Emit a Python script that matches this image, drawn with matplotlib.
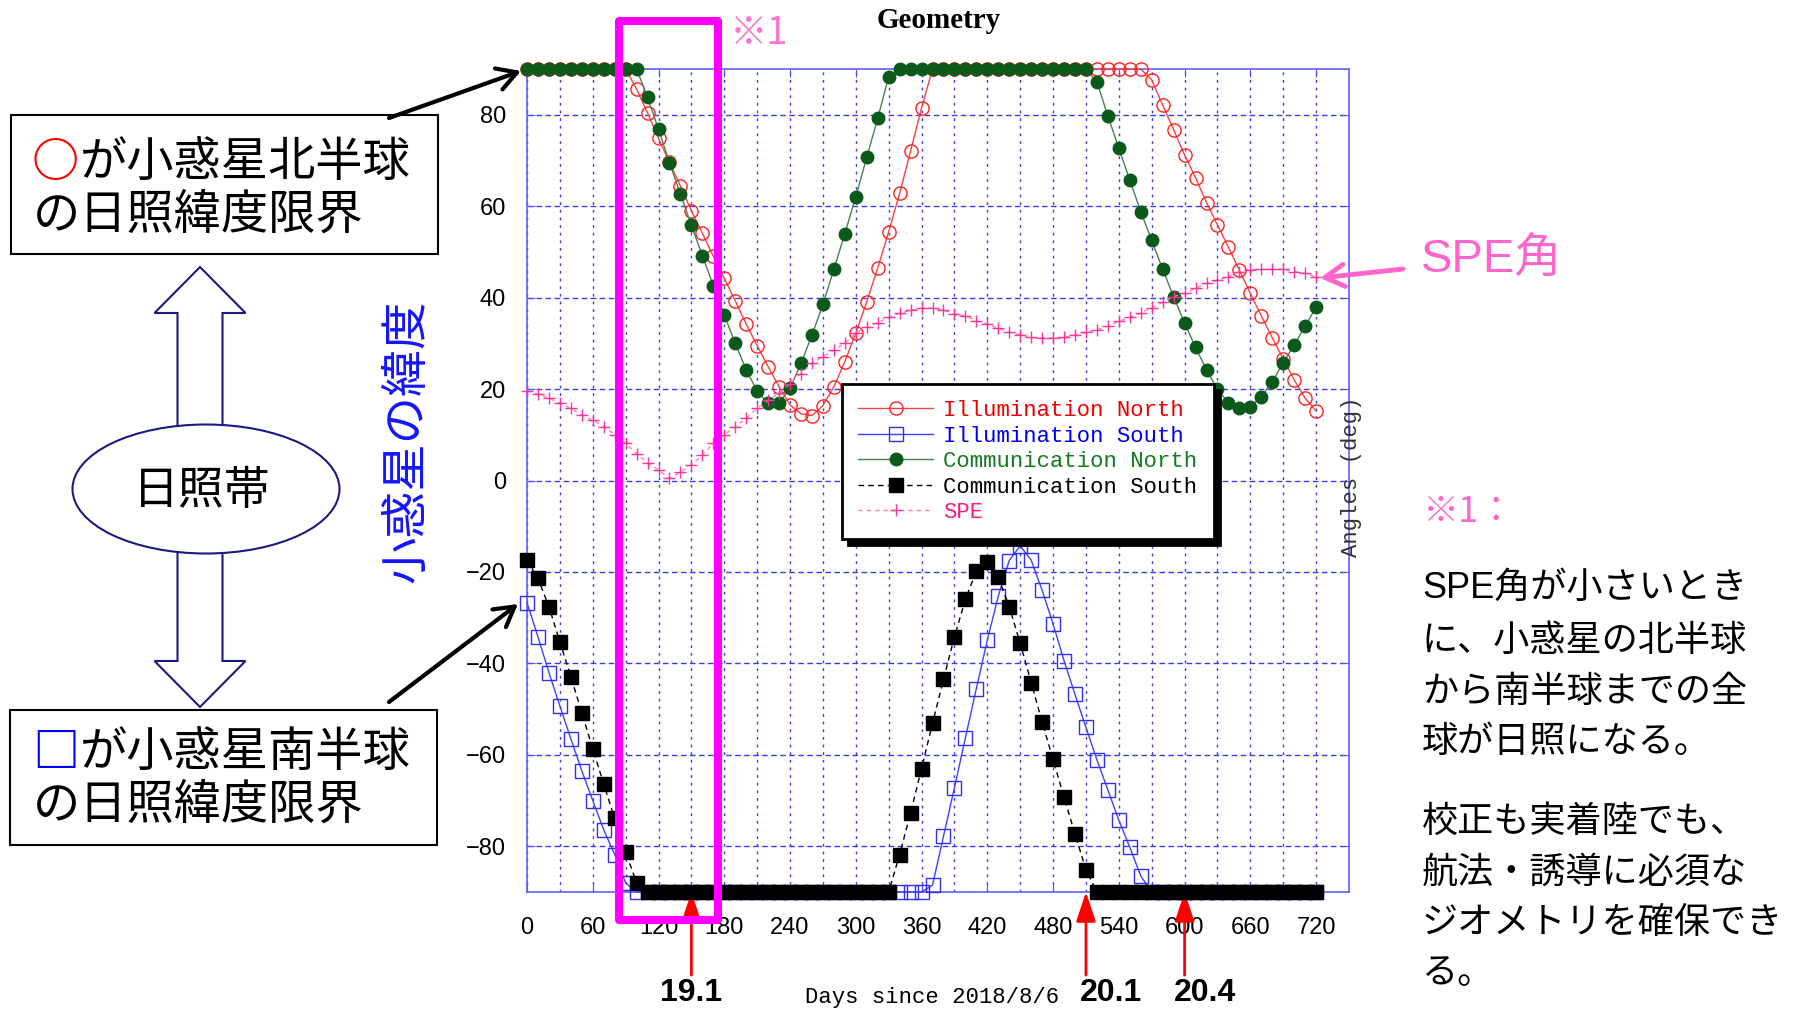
import matplotlib
matplotlib.use('Agg')
import matplotlib.pyplot as plt
from matplotlib.patches import Rectangle, Ellipse, Polygon
import numpy as np

plt.rcParams['font.family'] = ['Liberation Sans', 'Noto Sans CJK JP', 'DejaVu Sans']

# ---------------- data (every 10 days)
days = [0, 10, 20, 30, 40, 50, 60, 70, 80, 90,
        100, 110, 120, 130, 140, 150, 160, 170, 180, 190,
        200, 210, 220, 230, 240, 250, 260, 270, 280, 290,
        300, 310, 320, 330, 340, 350, 360, 370, 380, 390,
        400, 410, 420, 430, 440, 450, 460, 470, 480, 490,
        500, 510, 520, 530, 540, 550, 560, 570, 580, 590,
        600, 610, 620, 630, 640, 650, 660, 670, 680, 690,
        700, 710, 720]

illum_north = [90, 90, 90, 90, 90, 90, 90, 90, 90, 90,
               85.6, 80.4, 74.8, 69.6, 64.4, 59.0, 54.1, 49.0, 44.2, 39.3,
               34.2, 29.5, 24.9, 20.5, 16.5, 14.6, 14.2, 16.4, 20.5, 26.0,
               32.2, 39.1, 46.5, 54.4, 62.8, 72.1, 81.5, 90, 90, 90,
               90, 90, 90, 90, 90, 90, 90, 90, 90, 90,
               90, 90, 90, 90, 90, 90, 90, 87.6, 82.1, 76.7,
               71.2, 66.2, 60.8, 55.9, 51.0, 46.0, 40.9, 36.0, 31.2, 26.6,
               22.0, 18.0, 15.2]

illum_south = [-26.7, -34.2, -42.0, -49.3, -56.5, -63.5, -70.0, -76.4, -81.8, -88.0,
               -90, -90, -90, -90, -90, -90, -90, -90, -90, -90,
               -90, -90, -90, -90, -90, -90, -90, -90, -90, -90,
               -90, -90, -90, -90, -90, -90, -90, -88.5, -77.8, -67.2,
               -56.3, -45.5, -34.9, -25.3, -17.5, -14.3, -17.4, -24.0, -31.4, -39.4,
               -46.8, -54.0, -61.1, -67.7, -74.3, -80.2, -86.5, -90, -90, -90,
               -90, -90, -90, -90, -90, -90, -90, -90, -90, -90,
               -90, -90, -90]

comm_north = [90, 90, 90, 90, 90, 90, 90, 90, 90, 90,
              90, 83.8, 76.8, 69.5, 62.7, 55.8, 49.2, 42.6, 36.2, 30.0,
              24.2, 19.6, 16.9, 16.9, 20.2, 25.6, 31.8, 38.5, 46.2, 54.0,
              62.1, 70.7, 79.2, 88.3, 90, 90, 90, 90, 90, 90,
              90, 90, 90, 90, 90, 90, 90, 90, 90, 90,
              90, 90, 87.2, 79.7, 72.7, 65.7, 58.8, 52.5, 46.2, 40.2,
              34.4, 29.1, 24.2, 20.0, 17.0, 15.8, 16.1, 18.3, 21.6, 25.8,
              29.6, 33.8, 37.9]

comm_south = [-17.4, -21.4, -27.6, -35.3, -42.9, -50.8, -58.7, -66.4, -73.9, -81.2,
              -88.0, -90, -90, -90, -90, -90, -90, -90, -90, -90,
              -90, -90, -90, -90, -90, -90, -90, -90, -90, -90,
              -90, -90, -90, -90, -81.8, -72.7, -63.0, -53.1, -43.5, -34.2,
              -26.0, -19.8, -17.8, -21.2, -27.6, -35.6, -44.2, -52.8, -61.0, -69.3,
              -77.3, -85.2, -90, -90, -90, -90, -90, -90, -90, -90,
              -90, -90, -90, -90, -90, -90, -90, -90, -90, -90,
              -90, -90, -90]

spe = [19.6, 18.9, 18.0, 16.9, 15.8, 14.3, 13.2, 11.8, 10.0, 8.1,
       5.9, 3.9, 2.3, 0.5, 1.8, 3.4, 5.6, 8.1, 10.0, 11.8,
       13.6, 15.8, 17.5, 19.1, 21.2, 23.4, 25.6, 27.1, 28.5, 30.0,
       32.2, 33.6, 34.5, 35.7, 36.6, 37.2, 37.7, 37.7, 37.3, 36.4,
       36.0, 34.9, 34.2, 33.3, 32.4, 31.9, 31.3, 31.2, 31.2, 31.3,
       31.9, 32.4, 33.0, 33.7, 34.8, 35.7, 36.6, 37.8, 39.0, 40.2,
       41.0, 42.0, 43.1, 43.8, 44.6, 45.7, 46.1, 46.2, 46.2, 46.2,
       45.7, 45.3, 44.5]

x_ticks = [0, 60, 120, 180, 240, 300, 360, 420, 480, 540, 600, 660, 720]
y_ticks = [-80, -60, -40, -20, 0, 20, 40, 60, 80]

arrow_days = [150, 510, 600]
arrow_labels = ['19.1', '20.1', '20.4']
arrow_label_x = [691, 1111, 1205]

legend_colors = ['#ee0000', '#0000ee', '#127a20', 'black', '#ff1a80']

right_lines = ['SPE角が小さいとき', 'に、小惑星の北半球', 'から南半球までの全', '球が日照になる。',
               '校正も実着陸でも、', '航法・誘導に必須な', 'ジオメトリを確保でき', 'る。']
right_y = [588, 641, 692, 742, 822, 873, 923, 974]

# ---------------- figure
W, H = 1795, 1014
fig = plt.figure(figsize=(W / 100, H / 100), dpi=100)
ax = fig.add_axes([527 / W, 1 - 892 / H, 822 / W, 823 / H])

ax.plot(days, illum_north, color='#ff4040', lw=1.0, marker='o', ms=9.5, mfc='none',
        mec='#ff2020', mew=1.0, clip_on=False, label='Illumination North', zorder=3)
ax.plot(days, illum_south, color='#4040ff', lw=1.0, marker='s', ms=9.5, mfc='none',
        mec='#3030ee', mew=1.0, clip_on=False, label='Illumination South', zorder=3)
ax.plot(days, comm_north, color='#4a7f55', lw=1.0, marker='o', ms=9, mfc='#0b5a1c',
        mec='#0b5a1c', clip_on=False, label='Communication North', zorder=4)
ax.plot(days, comm_south, color='black', lw=1.0, ls=(0, (4, 3)), marker='s', ms=10.5,
        mfc='black', mec='black', clip_on=False, label='Communication South', zorder=4)
ax.plot(days, spe, color='#ff80b0', lw=1.0, ls=(0, (3, 3)), marker='+', ms=8,
        mec='#ff3399', mew=1.0, clip_on=False, label='SPE', zorder=5)

ax.set_xlim(0, 750)
ax.set_ylim(-90, 90)
ax.set_xticks(x_ticks)
ax.set_xticks(np.arange(30, 750, 60), minor=True)
ax.set_yticks(y_ticks)
ax.grid(which='both', axis='x', color='#3a3aee', ls=(0, (2, 3.5)), lw=1.0)
ax.grid(which='major', axis='y', color='#3a3aee', ls=(0, (4, 2.5)), lw=1.0)
ax.set_axisbelow(True)
for s in ax.spines.values():
    s.set_color('#6060ff')
    s.set_linewidth(1.2)
ax.tick_params(axis='both', which='major', direction='in', length=6, color='#5050ff',
               labelsize=17, left=True, right=True, top=True, bottom=True)
ax.tick_params(axis='y', pad=15)
ax.tick_params(axis='x', pad=18)
ax.tick_params(which='minor', length=0)

leg = ax.legend(loc='upper left', bbox_to_anchor=(0.383, 0.617), borderaxespad=0,
                prop={'family': 'Liberation Mono', 'size': 16}, handlelength=3.4,
                handletextpad=0.45, labelspacing=0.2, borderpad=0.72, fancybox=False,
                framealpha=1, edgecolor='black',
                shadow={'color': 'black', 'alpha': 1, 'ox': 4.5, 'oy': -4.5})
leg.get_frame().set_linewidth(2)
for t, c in zip(leg.get_texts(), legend_colors):
    t.set_color(c)
leg.set_zorder(20)

# red arrows under the x axis
for d in arrow_days:
    ax.annotate('', xy=(d, -90), xycoords='data', xytext=(d, -0.101),
                textcoords=('data', 'axes fraction'), annotation_clip=False,
                arrowprops=dict(arrowstyle='-|>,head_length=0.9,head_width=0.3',
                                mutation_scale=20, color='red', lw=2, shrinkA=0, shrinkB=0))

# ---------------- overlay in pixel coordinates
ov = fig.add_axes([0, 0, 1, 1], zorder=10)
ov.set_xlim(0, W)
ov.set_ylim(H, 0)
ov.axis('off')

cjk = ['Noto Sans CJK JP', 'DejaVu Sans']
mix = ['Liberation Sans', 'Noto Sans CJK JP', 'DejaVu Sans']

ov.text(939, 21, 'Geometry', ha='center', va='center', family='Liberation Serif',
        weight='bold', size=21)
ov.add_patch(Rectangle((619, 21), 99, 899, fill=False, ec='#ff00ff', lw=5.8, joinstyle='round'))
ov.text(730, 33, '※1', color='#ff77cc', size=27, family=cjk, va='center', ha='left')

for lab, xl in zip(arrow_labels, arrow_label_x):
    ov.text(xl, 993, lab, ha='center', va='center', weight='bold', size=23,
            family='Liberation Sans')
ov.text(932, 997, 'Days since 2018/8/6', ha='center', va='center',
        family='Liberation Mono', size=16)
ov.text(1351, 477, 'Angles (deg)', ha='center', va='center', rotation=90,
        family='Liberation Mono', size=16, color='#333333')

# left side annotations
ov.add_patch(Rectangle((11, 115), 427, 139, fc='white', ec='black', lw=1.5))
ov.add_patch(Rectangle((10, 710), 427, 135, fc='white', ec='black', lw=1.5))
ov.text(32, 163, '○', color='red', size=34, family=cjk, va='center', weight='bold')
ov.text(80, 163, 'が小惑星北半球', size=34, family=cjk, va='center')
ov.text(33, 215, 'の日照緯度限界', size=34, family=cjk, va='center')
ov.text(32, 753, '□', color='blue', size=34, family=cjk, va='center', weight='bold')
ov.text(80, 753, 'が小惑星南半球', size=34, family=cjk, va='center')
ov.text(33, 805, 'の日照緯度限界', size=34, family=cjk, va='center')

dbl = [(200, 267), (245.5, 313), (222.5, 313), (222.5, 661), (245.5, 661), (200, 707),
       (154.5, 661), (177.5, 661), (177.5, 313), (154.5, 313)]
ov.add_patch(Polygon(dbl, closed=True, fc='white', ec='#1a1a80', lw=1.5))
ov.add_patch(Ellipse((206, 489), 267, 129, fc='white', ec='#1a1a80', lw=1.5))
ov.text(202, 491, '日照帯', size=33, family=cjk, ha='center', va='center')

ov.text(407, 441, '小惑星の緯度', rotation=90, color='#1515ff', size=34, family=cjk,
        ha='center', va='center')

ov.annotate('', xy=(521, 71), xytext=(389, 118),
            arrowprops=dict(arrowstyle='->,head_length=0.7,head_width=0.4', mutation_scale=20,
                            color='black', lw=3, shrinkA=0, shrinkB=0))
ov.annotate('', xy=(518, 604), xytext=(389, 702),
            arrowprops=dict(arrowstyle='->,head_length=0.7,head_width=0.4', mutation_scale=20,
                            color='black', lw=3, shrinkA=0, shrinkB=0))

# right side notes
ov.text(1421, 261, 'SPE角', color='#ff66cc', size=34, family=mix, va='center', ha='left')
ov.annotate('', xy=(1320, 278), xytext=(1403, 269),
            arrowprops=dict(arrowstyle='->,head_length=0.7,head_width=0.4', mutation_scale=20,
                            color='#ff66cc', lw=3.5, shrinkA=0, shrinkB=0))
ov.text(1422, 512, '※1：', color='#ff66cc', size=26, family=cjk, va='center', ha='left')
for line, yy in zip(right_lines, right_y):
    ov.text(1422, yy, line, size=26, family=mix, va='center', ha='left')

fig.savefig('out.png', dpi=100)
